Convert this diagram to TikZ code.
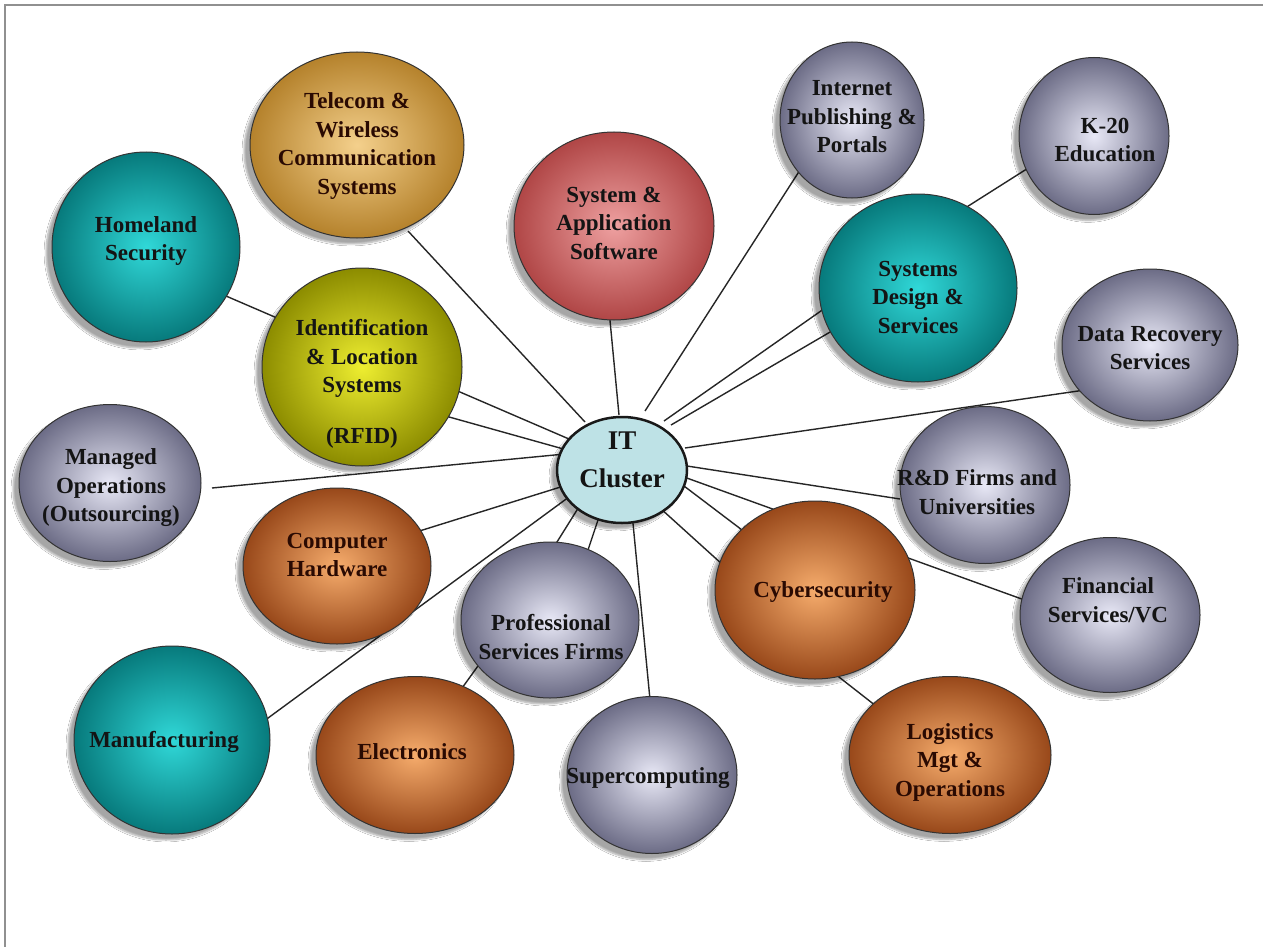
\documentclass[tikz,border=0pt]{standalone}
\usepackage{fontspec}
\setmainfont{Liberation Serif}
\usetikzlibrary{shapes.geometric,shadows.blur,calc,backgrounds}
\definecolor{tealout}{HTML}{077A7C}
\definecolor{tealin}{HTML}{30D8D8}
\definecolor{goldout}{HTML}{B5822C}
\definecolor{goldin}{HTML}{F4D08C}
\definecolor{oliveout}{HTML}{8C8C00}
\definecolor{olivein}{HTML}{EEEE30}
\definecolor{rosout}{HTML}{B04646}
\definecolor{rosin}{HTML}{EEA0A0}
\definecolor{greyout}{HTML}{6C6C86}
\definecolor{greyin}{HTML}{E8E8F6}
\definecolor{brownout}{HTML}{98481A}
\definecolor{brownin}{HTML}{F6AC6C}
\definecolor{itfill}{HTML}{BEE2E6}
\definecolor{framecol}{HTML}{909090}
\definecolor{txtdark}{HTML}{141414}
\definecolor{txtbrown}{HTML}{2A0A02}
\tikzset{
  bub/.style={ellipse, draw=black!80, line width=1pt, inner sep=0pt,
    blur shadow={shadow xshift=-6pt, shadow yshift=-6pt, shadow opacity=35, shadow blur steps=6}},
  cteal/.style={bub, inner color=tealin, outer color=tealout},
  cgold/.style={bub, inner color=goldin, outer color=goldout},
  colive/.style={bub, inner color=olivein, outer color=oliveout},
  crose/.style={bub, inner color=rosin, outer color=rosout},
  cgrey/.style={bub, inner color=greyin, outer color=greyout},
  cbrown/.style={bub, inner color=brownin, outer color=brownout},
  lbl/.style={align=center, inner sep=0pt, text=txtdark,
    font=\fontsize{23}{28.5}\selectfont\bfseries},
  lblb/.style={lbl, text=txtbrown},
  conn/.style={draw=black!85, line width=1.4pt},
}
\begin{document}
\begin{tikzpicture}[x=1pt,y=-1pt]
\useasboundingbox (0,0) rectangle (1263,947);
% bubbles
\node[cgold, minimum width=214, minimum height=186] (tel) at (357,145) {};
\node[cteal, minimum width=188, minimum height=190] (home) at (146,247) {};
\node[colive, minimum width=200, minimum height=198] (ident) at (362,367) {};
\node[crose, minimum width=200, minimum height=188] (sas) at (614,226) {};
\node[cgrey, minimum width=144, minimum height=156] (inet) at (852,120) {};
\node[cgrey, minimum width=150, minimum height=157] (k20) at (1094,136) {};
\node[cteal, minimum width=198, minimum height=188] (sdes) at (918,288) {};
\node[cgrey, minimum width=176, minimum height=152] (drec) at (1150,345) {};
\node[cgrey, minimum width=170, minimum height=157] (rnd) at (985,485) {};
\node[cgrey, minimum width=182, minimum height=157] (mops) at (110,483) {};
\node[cbrown, minimum width=188, minimum height=156] (hw) at (337,566) {};
\node[cgrey, minimum width=178, minimum height=156] (prof) at (550,620) {};
\node[cbrown, minimum width=200, minimum height=178] (cyber) at (815,590) {};
\node[cgrey, minimum width=180, minimum height=155] (fin) at (1110,615) {};
\node[cteal, minimum width=196, minimum height=188] (manu) at (172,740) {};
\node[cbrown, minimum width=198, minimum height=157] (elec) at (415,755) {};
\node[cgrey, minimum width=170, minimum height=157] (super) at (652,775) {};
\node[cbrown, minimum width=202, minimum height=157] (logi) at (950,755) {};
\node[ellipse, draw=black!90, line width=2.5pt, fill=itfill, inner sep=0pt,
  minimum width=130, minimum height=106,
  blur shadow={shadow xshift=-6pt, shadow yshift=-6pt, shadow opacity=35, shadow blur steps=6}] (it) at (622,470) {};
% labels
\node[lblb] (tel-t) at (357,146) {Telecom \&\\Wireless\\Communication\\Systems};
\node[lbl] (home-t) at (146,241) {Homeland\\Security};
\node[lbl] (ident-t) at (362,384) {Identification\\\& Location\\Systems\\[22pt](RFID)};
\node[lbl] (sas-t) at (614,223) {System \&\\Application\\Software};
\node[lbl] (inet-t) at (852,117) {Internet\\Publishing \&\\Portals};
\node[lbl] (k20-t) at (1105,140) {K-20\\Education};
\node[lbl] (sdes-t) at (918,297) {Systems\\Design \&\\Services};
\node[lbl] (drec-t) at (1150,348) {Data Recovery\\Services};
\node[lbl] (rnd-t) at (977,492) {R\&D Firms and\\Universities};
\node[lbl] (mops-t) at (111,488) {Managed\\Operations\\(Outsourcing)};
\node[lblb] (hw-t) at (337,555) {Computer\\Hardware};
\node[lbl] (prof-t) at (551,637) {Professional\\Services Firms};
\node[lblb] (cyber-t) at (823,592) {Cybersecurity};
\node[lbl] (fin-t) at (1108,600) {Financial\\Services/VC};
\node[lbl] (manu-t) at (164,742) {Manufacturing};
\node[lblb] (elec-t) at (412,752) {Electronics};
\node[lbl] (super-t) at (648,778) {Supercomputing};
\node[lblb] (logi-t) at (950,762) {Logistics\\Mgt \&\\Operations};
\node[align=center, inner sep=0pt, text=txtdark, font=\fontsize{27}{38}\selectfont\bfseries] (it-t) at (622,460) {IT\\Cluster};
% background: page, frame and connectors
\begin{pgfonlayer}{background}
\fill[white] (0,0) rectangle (1263,947);
\draw[framecol, line width=2pt] (5,947) -- (5,5) -- (1263,5);
\draw[conn] ($(it.center)+(-37,-48)$) -- ($(tel.center)+(51,86)$);
\draw[conn] ($(it.center)+(-3,-55)$) -- ($(sas.center)+(-5,84)$);
\draw[conn] ($(it.center)+(23,-59)$) -- ($(inet.center)+(-52,50)$);
\draw[conn] ($(it.center)+(42,-49)$) -- ($(sdes.center)+(-90,18)$);
\draw[conn] ($(it.center)+(49,-45)$) -- ($(sdes.center)+(-81,40)$);
\draw[conn] ($(sdes.center)+(44,-78)$) -- ($(k20.center)+(-61,29)$);
\draw[conn] ($(it.center)+(63,-22)$) -- ($(drec.center)+(-65,45)$);
\draw[conn] ($(it.center)+(65,-4)$) -- ($(rnd.center)+(-85,14)$);
\draw[conn] ($(it.center)+(62,7)$) -- ($(fin.center)+(-80,-13)$);
\draw[conn] ($(it.center)+(62,16)$) -- ($(cyber.center)+(-69,-57)$);
\draw[conn] ($(it.center)+(38,38)$) -- ($(cyber.center)+(-92,-25)$);
\draw[conn] ($(cyber.center)+(15,80)$) -- ($(logi.center)+(-74,-49)$);
\draw[conn] ($(it.center)+(10,43)$) -- ($(super.center)+(-1,-65)$);
\draw[conn] ($(it.center)+(-40,32)$) -- ($(prof.center)+(2,-70)$);
\draw[conn] ($(it.center)+(-21,41)$) -- ($(prof.center)+(35,-61)$);
\draw[conn] ($(elec.center)+(42,-60)$) -- ($(prof.center)+(-67,39)$);
\draw[conn] ($(it.center)+(-49,24)$) -- ($(manu.center)+(92,-19)$);
\draw[conn] ($(it.center)+(-55,15)$) -- ($(hw.center)+(76,-33)$);
\draw[conn] ($(it.center)+(-57,-16)$) -- ($(mops.center)+(102,5)$);
\draw[conn] ($(it.center)+(-53,-31)$) -- ($(ident.center)+(91,22)$);
\draw[conn] ($(it.center)+(-55,-20)$) -- ($(ident.center)+(80,48)$);
\draw[conn] ($(home.center)+(80,49)$) -- ($(ident.center)+(-78,-46)$);
\end{pgfonlayer}
\end{tikzpicture}
\end{document}
